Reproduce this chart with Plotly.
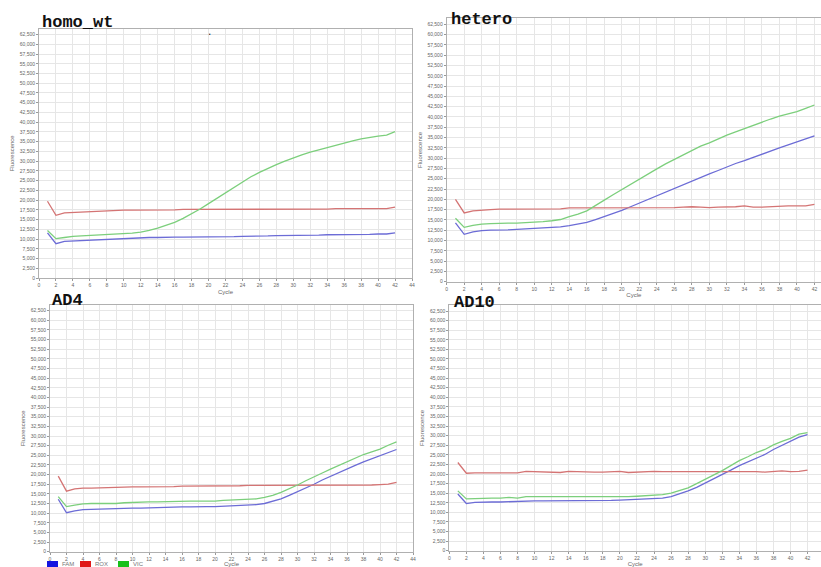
import plotly.graph_objects as go

W, H = 821, 567

cycles = list(range(1, 43))
panel_names = ["homo_wt", "hetero", "AD4", "AD10"]
series_names = ["FAM", "ROX", "VIC"]

homo_fam = [11600, 8800, 9400, 9500, 9600, 9800, 9900, 10000, 10100, 10200, 10300, 10400, 10400, 10400, 10500, 10500, 10500, 10500, 10500, 10500, 10500, 10600, 10600, 10700, 10700, 10800, 10800, 10900, 10900, 10900, 11000, 11000, 11000, 11100, 11100, 11100, 11100, 11200, 11200, 11300, 11300, 11600]
homo_rox = [19700, 16100, 16700, 16800, 16900, 17000, 17100, 17300, 17300, 17400, 17400, 17400, 17500, 17500, 17500, 17500, 17600, 17600, 17600, 17600, 17600, 17600, 17600, 17700, 17700, 17700, 17700, 17700, 17700, 17700, 17700, 17700, 17700, 17700, 17800, 17800, 17800, 17800, 17800, 17800, 17800, 18200]
homo_vic = [12200, 10100, 10400, 10700, 10800, 10900, 11000, 11100, 11200, 11400, 11500, 11800, 12200, 12800, 13500, 14300, 15300, 16400, 17700, 19100, 20500, 22000, 23400, 24700, 26000, 27100, 28200, 29100, 30000, 30900, 31600, 32300, 32900, 33500, 34100, 34600, 35200, 35700, 36100, 36400, 36700, 37600]

het_fam = [14300, 11500, 12100, 12400, 12500, 12500, 12600, 12700, 12800, 12900, 13000, 13100, 13300, 13600, 14000, 14400, 15100, 15800, 16500, 17300, 18200, 19100, 20000, 20900, 21800, 22700, 23500, 24400, 25300, 26200, 27000, 27900, 28700, 29400, 30200, 31000, 31700, 32500, 33200, 33900, 34600, 35400]
het_rox = [20000, 16700, 17200, 17400, 17500, 17600, 17600, 17600, 17600, 17600, 17600, 17600, 17700, 17900, 17900, 17900, 17900, 17900, 17900, 17900, 17900, 17900, 18000, 18000, 18000, 18000, 18100, 18200, 18100, 18000, 18100, 18100, 18200, 18400, 18100, 18100, 18200, 18400, 18400, 18400, 18400, 18800]
het_vic = [15400, 13200, 13700, 14000, 14100, 14200, 14200, 14200, 14300, 14400, 14600, 14800, 15100, 15800, 16400, 17200, 18400, 19800, 21100, 22400, 23600, 24800, 26100, 27400, 28600, 29700, 30900, 32000, 32900, 33700, 34700, 35600, 36400, 37200, 38000, 38800, 39500, 40200, 40800, 41300, 42100, 42900]

ad4_fam = [13600, 10100, 10600, 10900, 11000, 11100, 11100, 11200, 11200, 11300, 11300, 11400, 11400, 11500, 11500, 11600, 11600, 11700, 11700, 11700, 11800, 11800, 11900, 12000, 12200, 12500, 13100, 13700, 14600, 15500, 16500, 17500, 18600, 19600, 20500, 21400, 22400, 23300, 24100, 24900, 25700, 26500]
ad4_rox = [19600, 15700, 16300, 16500, 16500, 16600, 16600, 16700, 16700, 16800, 16800, 16800, 16900, 16900, 16900, 17000, 17000, 17000, 17000, 17000, 17100, 17100, 17100, 17200, 17200, 17200, 17200, 17200, 17300, 17300, 17300, 17300, 17300, 17300, 17300, 17300, 17300, 17300, 17300, 17400, 17500, 18000]
ad4_vic = [14300, 11700, 12100, 12400, 12500, 12500, 12500, 12500, 12700, 12800, 12800, 12900, 12900, 13000, 13000, 13100, 13100, 13100, 13100, 13100, 13300, 13400, 13400, 13500, 13700, 14100, 14600, 15400, 16300, 17300, 18400, 19500, 20400, 21400, 22400, 23400, 24300, 25200, 25900, 26600, 27600, 28500]

ad10_fam = [14800, 12300, 12600, 12700, 12700, 12700, 12800, 12900, 13000, 13000, 13000, 13000, 13000, 13100, 13100, 13100, 13100, 13100, 13100, 13200, 13300, 13400, 13500, 13600, 13700, 14100, 14800, 15600, 16500, 17600, 18600, 19700, 21000, 22200, 23200, 24300, 25100, 26400, 27400, 28400, 29600, 30300]
ad10_rox = [23000, 20200, 20300, 20300, 20300, 20300, 20300, 20300, 20700, 20600, 20500, 20400, 20400, 20700, 20600, 20500, 20500, 20500, 20600, 20700, 20400, 20500, 20600, 20700, 20600, 20600, 20600, 20700, 20700, 20700, 20700, 20700, 20700, 20700, 20700, 20600, 20500, 20700, 20800, 20600, 20700, 21000]
ad10_vic = [15600, 13500, 13600, 13700, 13700, 13700, 13900, 13700, 14100, 14100, 14100, 14000, 14000, 14100, 14100, 14100, 14100, 14000, 14000, 14100, 14100, 14200, 14300, 14400, 14600, 15000, 15600, 16400, 17500, 18600, 19800, 20900, 22200, 23500, 24500, 25600, 26400, 27600, 28500, 29300, 30400, 30800]

y_tick_vals = list(range(0, 62501, 2500))
x_tick_vals = list(range(0, 45, 2))

panel_data = [
    (homo_fam, homo_rox, homo_vic),
    (het_fam, het_rox, het_vic),
    (ad4_fam, ad4_rox, ad4_vic),
    (ad10_fam, ad10_rox, ad10_vic),
]

# layout geometry in pixels: (x_left, x_right, x_max, y_bottom, y_top)
geom = [
    (39.0, 412.0, 44.0, 278.0, 28.7),
    (446.7, 821.0, 42.75, 281.7, 18.1),
    (50.0, 413.0, 44.0, 551.7, 304.9),
    (449.3, 821.0, 43.58, 550.7, 305.3),
]
title_pos = [(40, 22), (449, 19), (50, 300), (452, 302)]

line_colors = {"FAM": "#6c6cd6", "ROX": "#d47474", "VIC": "#7ccf7c"}
legend_colors = {"FAM": "#1414e0", "ROX": "#e01818", "VIC": "#18c018"}

fig = go.Figure()
layout = dict(
    template="none",
    width=W, height=H, margin=dict(l=0, r=0, t=0, b=0, autoexpand=False),
    paper_bgcolor="white", plot_bgcolor="white",
    showlegend=False,
    font=dict(family="Arial, Liberation Sans, sans-serif", color="#555"),
)
annotations = []
shapes = []

for i, (data, g) in enumerate(zip(panel_data, geom)):
    xl, xr, xmax, yb, yt = g
    k = "" if i == 0 else str(i + 1)
    for name, vals in zip(series_names, data):
        fig.add_trace(go.Scatter(
            x=cycles, y=vals, mode="lines", name=name,
            line=dict(color=line_colors[name], width=1.3),
            xaxis="x" + k, yaxis="y" + k,
        ))
    axis_common = dict(
        automargin=False,
        showgrid=True, gridcolor="#e6e6e6", gridwidth=1,
        showline=True, linecolor="#b0b0b0", linewidth=1, mirror=True,
        ticks="outside", ticklen=2, tickcolor="#999",
        tickfont=dict(size=5, color="#666"), zeroline=False,
    )
    layout["xaxis" + k] = dict(
        axis_common, domain=[xl / W, xr / W], range=[0, xmax],
        tickvals=x_tick_vals, anchor="y" + k,
        title=dict(text="Cycle", font=dict(size=6, color="#666"), standoff=2),
    )
    layout["yaxis" + k] = dict(
        axis_common, domain=[1 - yb / H, 1 - yt / H], range=[0, 64000],
        tickvals=y_tick_vals, tickformat=",", anchor="x" + k,
        title=dict(text="Fluorescence", font=dict(size=6, color="#666"), standoff=4),
    )
    tx, ty = title_pos[i]
    annotations.append(dict(
        text="<b>" + panel_names[i] + "</b>", x=tx / W, y=1 - ty / H,
        xref="paper", yref="paper", xanchor="left", yanchor="middle",
        showarrow=False,
        font=dict(family="Liberation Mono, Courier New, monospace", size=17, color="#111"),
    ))

annotations.append(dict(text=".", x=206 / W, y=1 - 22 / H, xref="paper", yref="paper",
                        showarrow=False, font=dict(size=12, color="#333")))

# compact legend under AD4 panel
leg_x = [47, 80, 118]
for name, lx in zip(series_names, leg_x):
    shapes.append(dict(type="rect", xref="paper", yref="paper",
                       x0=lx / W, x1=(lx + 11) / W, y0=1 - 567 / H, y1=1 - 561 / H,
                       fillcolor=legend_colors[name], line=dict(width=0)))
    annotations.append(dict(text=name, x=(lx + 13) / W, y=1 - 563.6 / H, xref="paper", yref="paper",
                            xanchor="left", yanchor="middle", showarrow=False,
                            font=dict(size=6, color="#777")))

layout["annotations"] = annotations
layout["shapes"] = shapes
fig.update_layout(**layout)
fig.write_html(
    "out.html",
    config={"displayModeBar": False},
    post_script="document.body.style.margin='0';document.body.style.padding='0';document.body.style.overflow='hidden';",
)
